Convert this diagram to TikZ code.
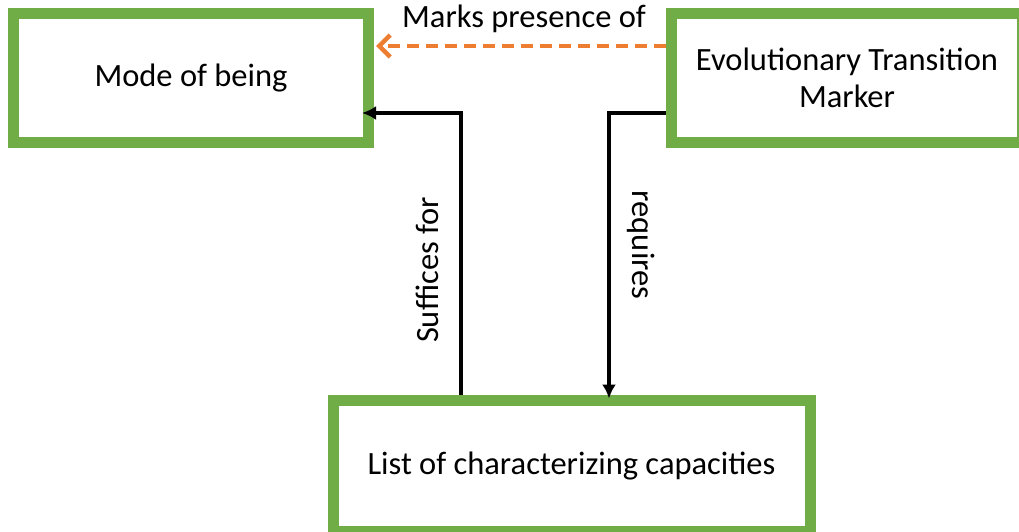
\documentclass[tikz,border=0pt]{standalone}
\usepackage{fontspec}
\setmainfont{Carlito}
\usetikzlibrary{arrows.meta}
\definecolor{boxgreen}{HTML}{70AD47}
\definecolor{dashorange}{HTML}{ED7D31}
\begin{document}
\begin{tikzpicture}[x=1pt,y=1pt,
  box/.style={draw=boxgreen, line width=11pt, fill=white, inner sep=0pt,
    align=center, font=\fontsize{32.5}{39}\selectfont},
  blackarrow/.style={draw=black, line width=4pt, -{Latex[length=14pt,width=14pt]}},
  orangearrow/.style={draw=dashorange, line width=4.5pt, dash pattern=on 12pt off 7pt,
    -{Straight Barb[length=11pt,width=22pt,line width=4.5pt]}},
  lbl/.style={font=\fontsize{32.5}{37}\selectfont, inner sep=0pt}]
\useasboundingbox (0,0) rectangle (1019,-531);
\clip (0,0) rectangle (1019,-531);
\fill[white] (0,0) rectangle (1019,-531);
\node[box, minimum width=355pt, minimum height=128.5pt] (A) at (191,-77.75) {Mode of being};
\node[box, minimum width=351pt, minimum height=128.5pt] (B) at (847,-77.75) {Evolutionary Transition\\[-2pt]Marker};
\node[box, minimum width=477pt, minimum height=131pt] (C) at (571.5,-465.5) {List of characterizing capacities};
\coordinate (d) at (0,-46);
\coordinate (v1) at (461,-113);
\coordinate (v2) at (609,-113);
\draw[orangearrow] (B.west |- d) -- ([xshift=2pt]A.east |- d);
\draw[blackarrow] (C.north -| v1) -- (v1) -- ([xshift=-12pt]A.east |- v1);
\draw[blackarrow] (B.west |- v2) -- (v2) -- ([yshift=-4pt]C.north -| v2);
\node[lbl, anchor=base] (m) at (524,-27) {Marks presence of};
\node[lbl, rotate=90] (s) at (427,-270) {Suffices for};
\node[lbl, rotate=-90] (r) at (641,-245) {requires};
\end{tikzpicture}
\end{document}
